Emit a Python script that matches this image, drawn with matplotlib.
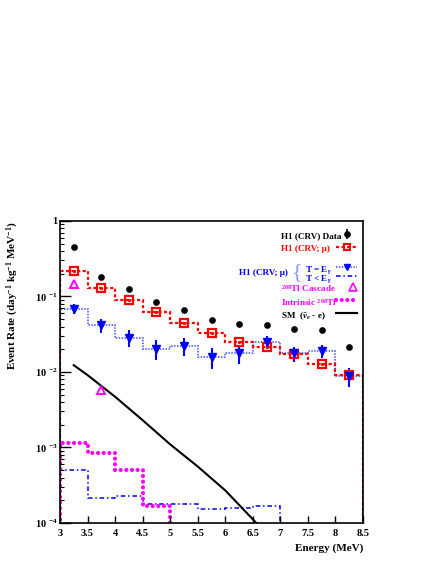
import numpy as np
import matplotlib
matplotlib.use("Agg")
import matplotlib.pyplot as plt
from matplotlib.lines import Line2D

plt.rcParams['font.family'] = ['Liberation Serif', 'DejaVu Serif']
plt.rcParams['font.weight'] = 'bold'
plt.rcParams['mathtext.fontset'] = 'custom'
plt.rcParams['mathtext.rm'] = 'Liberation Serif:bold'
plt.rcParams['mathtext.it'] = 'Liberation Serif:bold:italic'
plt.rcParams['mathtext.bf'] = 'Liberation Serif:bold'

# energy bins (MeV)
bin_edges = [3.0, 3.5, 4.0, 4.5, 5.0, 5.5, 6.0, 6.5, 7.0, 7.5, 8.0, 8.5]

# H1 (CRV) data
data_rate = [0.457, 0.183, 0.124, 0.084, 0.067, 0.049, 0.043, 0.0416, 0.0367, 0.036, 0.0212]
data_err = [0.012, 0.006, 0.004, 0.003, 0.002, 0.002, 0.002, 0.002, 0.0015, 0.0015, 0.001]

# H1 (CRV; mu)
mu_rate = [0.22, 0.128, 0.089, 0.0618, 0.045, 0.0325, 0.0247, 0.0214, 0.0173, 0.0126, 0.0091]

# H1 (CRV; mu), T = E_gamma
teq_rate = [0.069, 0.042, 0.0285, 0.0204, 0.0223, 0.016, 0.0177, 0.0252, 0.0177, 0.0191, 0.0089]
teq_err = [0.011, 0.009, 0.007, 0.006, 0.006, 0.005, 0.005, 0.005, 0.004, 0.004, 0.0025]

# H1 (CRV; mu), T < E_gamma
tlt_rate = [5.1e-4, 2.16e-4, 2.3e-4, 1.77e-4, 1.77e-4, 1.51e-4, 1.56e-4, 1.7e-4, 1e-7, 1e-7, 1e-7]

# intrinsic 208Tl
tl_rate = [1.16e-3, 8.4e-4, 5.08e-4, 1.7e-4, 1e-7, 1e-7, 1e-7, 1e-7, 1e-7, 1e-7, 1e-7]

# 208Tl cascade
casc_E = [3.25, 3.75]
casc_rate = [0.147, 5.8e-3]

# SM (anti-nu_e - e)
sm_E = [3.25, 3.5, 4.0, 4.5, 5.0, 5.5, 6.0, 6.5, 6.6]
sm_rate = [0.0123, 9.1e-3, 4.7e-3, 2.3e-3, 1.1e-3, 5.6e-4, 2.7e-4, 1.12e-4, 9.3e-5]

ytick_vals = [1e-4, 1e-3, 1e-2, 1e-1, 1]
ytick_labels = ['10 $^{-4}$', '10 $^{-3}$', '10 $^{-2}$', '10 $^{-1}$', '1']
xtick_vals = [3, 3.5, 4, 4.5, 5, 5.5, 6, 6.5, 7, 7.5, 8, 8.5]

centers = [(a + b) / 2 for a, b in zip(bin_edges[:-1], bin_edges[1:])]

RED = '#ff0000'
BLUE_DOT = '#5566ff'
BLUE = '#0000ee'
MAG = '#ff00ff'
FS = 6.6

fig = plt.figure(figsize=(4.36, 5.64), dpi=100)
ax = fig.add_axes([0.1376, 0.0727, 0.695, 0.5355])
ax.set_yscale('log')
ax.set_xlim(3, 8.5)
ax.set_ylim(1e-4, 1)

# histograms
ax.stairs(tlt_rate, bin_edges, baseline=1e-7, color=BLUE, lw=1.1,
          linestyle=(0, (3, 1.8, 1, 1.8)))
ax.stairs(tl_rate, bin_edges, baseline=1e-7, color=MAG, lw=3.0,
          linestyle=(0, (0.01, 1.35)), capstyle='round')
ax.stairs(teq_rate, bin_edges, baseline=1e-7, color=BLUE_DOT, lw=1.3,
          linestyle=(0, (0.8, 0.8)))
ax.stairs(mu_rate, bin_edges, baseline=1e-7, color=RED, lw=1.6,
          linestyle=(0, (1.4, 1.1)))

# SM curve
ax.plot(sm_E, sm_rate, color='black', lw=1.5)

# points
ax.errorbar(centers, teq_rate, yerr=teq_err, fmt='v', color='#0000ff', ms=5.5,
            elinewidth=1.5, capsize=0)
ax.plot(centers, mu_rate, 's', mfc='none', mec=RED, ms=5.5, mew=1.6)
ax.plot(centers, mu_rate, 's', color=RED, ms=1.2)
data_h = ax.errorbar(centers, data_rate, yerr=data_err, fmt='o', color='black',
                     ms=3.8, elinewidth=1.2, capsize=0)
ax.plot(casc_E, casc_rate, '^', mfc='none', mec=MAG, ms=6, mew=1.4)

# axes style
for s in ax.spines.values():
    s.set_linewidth(1.2)
ax.set_xticks(xtick_vals)
ax.set_xticklabels([f'{v:g}' for v in xtick_vals])
ax.set_yticks(ytick_vals)
ax.set_yticklabels(ytick_labels)
ax.tick_params(axis='both', which='major', direction='in', labelsize=7.5,
               length=5, width=1.0, top=False, right=False)
ax.tick_params(axis='y', which='minor', direction='in', length=3, width=0.8,
               right=False)
ax.tick_params(axis='x', which='major', pad=4)
ax.tick_params(axis='y', which='major', pad=2, length=8)

ax.set_xlabel('Energy (MeV)', fontsize=8, fontweight='bold', loc='right')
ax.set_ylabel('Event Rate (day$^{-1}$ kg$^{-1}$ MeV$^{-1}$)', fontsize=8,
              fontweight='bold', loc='top', labelpad=10)

# legend: one key per row, labels as left aligned text
handles = [
    data_h,
    Line2D([], [], color=RED, lw=1.6, linestyle=(0, (1.4, 1.1)), marker='s',
           mfc='none', mec=RED, ms=5, mew=1.5),
    Line2D([], [], color=BLUE_DOT, lw=1.3, linestyle=(0, (0.8, 0.8)), marker='v',
           mfc='#0000ff', mec='#0000ff', ms=5),
    Line2D([], [], color=BLUE, lw=1.1, linestyle=(0, (3, 1.8, 1, 1.8))),
    Line2D([], [], color=MAG, marker='^', mfc='none', mec=MAG, ms=6, mew=1.2, lw=0),
    Line2D([], [], color=MAG, lw=3.0, linestyle=(0, (0.01, 1.35)),
           dash_capstyle='round'),
    Line2D([], [], color='black', lw=1.5),
]
labels = [
    'H1 (CRV) Data',
    'H1 (CRV; μ)',
    'T = E$_{\\gamma}$',
    'T < E$_{\\gamma}$',
    '$^{208}$Tl Cascade',
    'Intrinsic $^{208}$Tl',
    'SM  ($\\bar{\\nu}_e$ - e)',
]
label_colors = ['black', RED, BLUE, BLUE, MAG, MAG, 'black']
label_x = [0.729, 0.729, 0.808, 0.808, 0.729, 0.729, 0.729]
row_y = [0.954, 0.910, 0.845, 0.814, 0.779, 0.735, 0.691]
key_x = [0.946, 0.946, 0.946, 0.946, 0.968, 0.946, 0.946]

for h, lab, c, lx, ry, kx in zip(handles, labels, label_colors, label_x, row_y, key_x):
    lg = ax.legend([h], [''], loc='center', bbox_to_anchor=(kx, ry),
                   frameon=False, fontsize=7, handlelength=2.2,
                   handletextpad=0.0, borderpad=0.0, borderaxespad=0.0)
    ax.add_artist(lg)
    ax.text(lx, ry, lab, transform=ax.transAxes, ha='left', va='center_baseline',
            fontsize=FS, color=c, fontweight='bold')

ymid = (row_y[2] + row_y[3]) / 2
ax.text(0.752, ymid, 'H1 (CRV; μ)', transform=ax.transAxes, ha='right',
        va='center_baseline', fontsize=FS, color=BLUE, fontweight='bold')
ax.text(0.800, ymid, '{', transform=ax.transAxes, ha='right', va='center',
        fontsize=16, color='#8899ff', fontweight='normal')

fig.savefig('out.png', dpi=100)
